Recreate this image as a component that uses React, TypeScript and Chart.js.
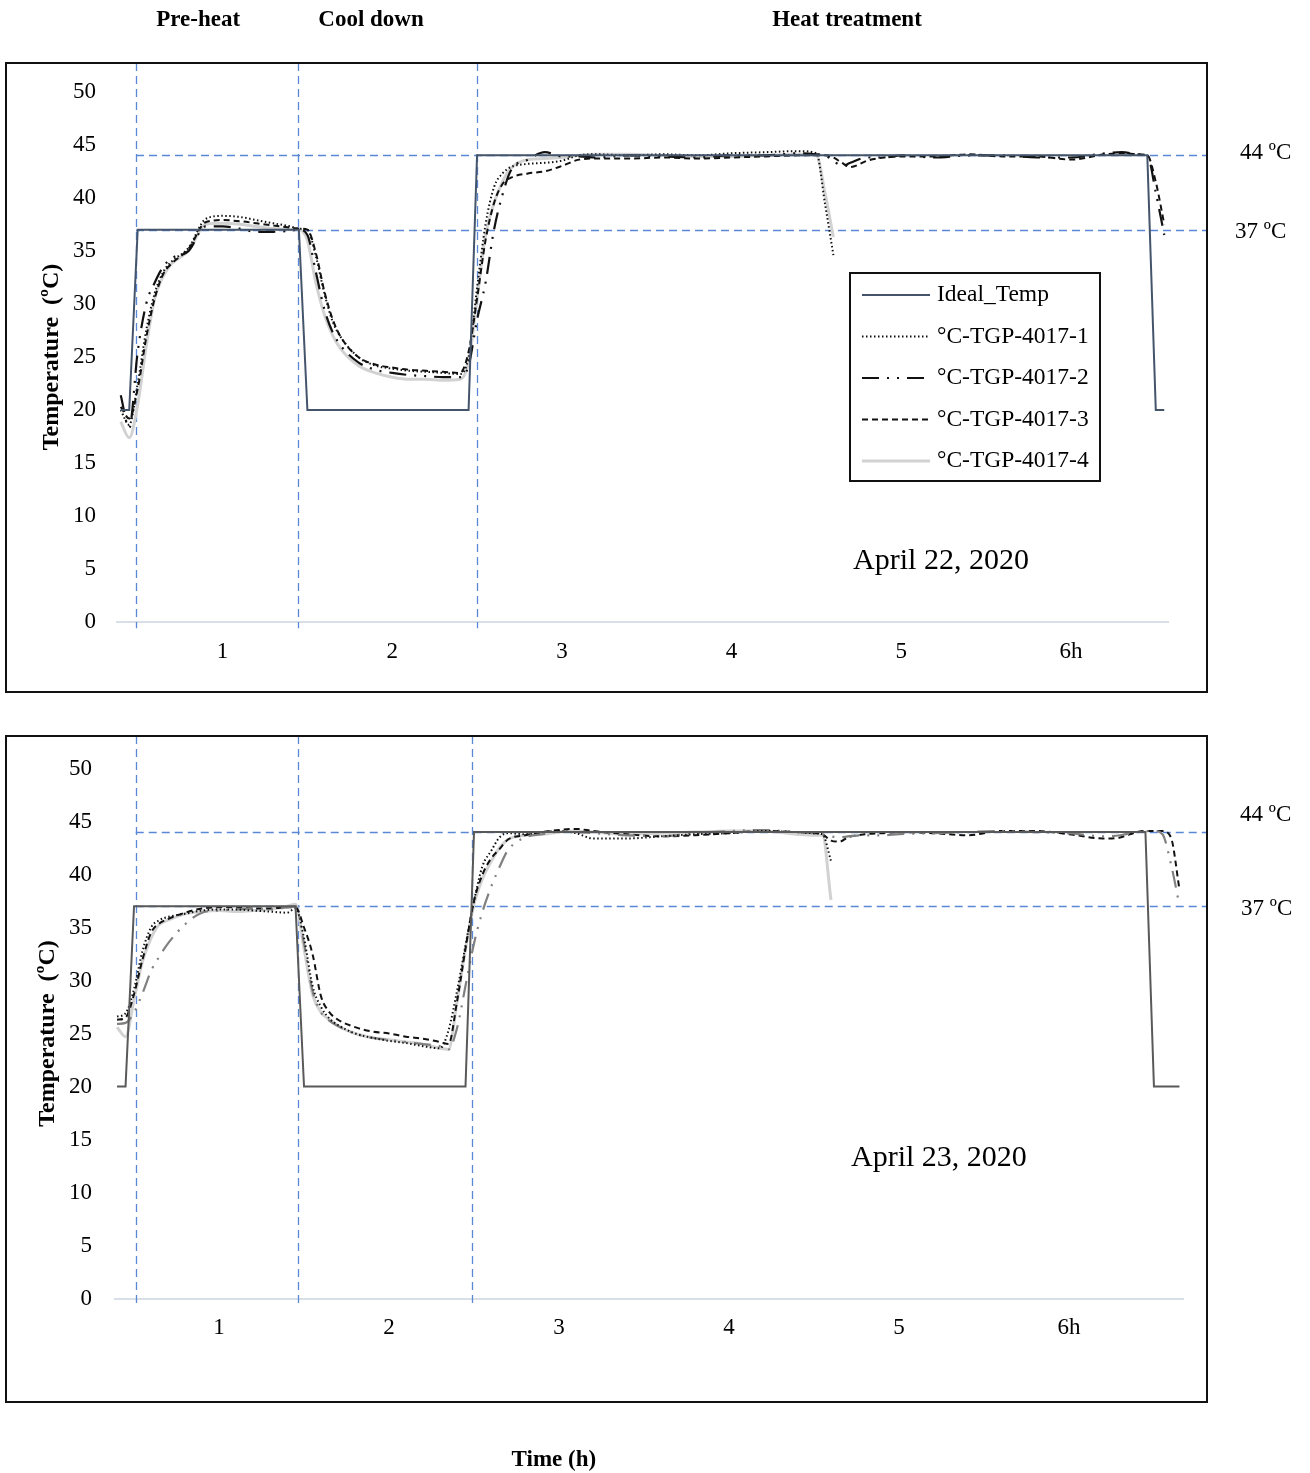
import React, { useEffect, useRef } from 'react';
import { Chart, registerables } from 'chart.js';

Chart.register(...registerables);

const FONT = "'Liberation Serif', 'Times New Roman', Times, serif";

// ---------- labels ----------
const SERIES_NAMES = ['Ideal_Temp', '°C-TGP-4017-1', '°C-TGP-4017-2', '°C-TGP-4017-3', '°C-TGP-4017-4'];
const PHASE_NAMES = ['Pre-heat', 'Cool down', 'Heat treatment'];
const PHASE_NAME_HOURS = [0.856, 1.875, 4.68];
const X_TICK_VALUES = [1, 2, 3, 4, 5, 6];
const X_TICK_LABELS = ['1', '2', '3', '4', '5', '6h'];
const Y_TITLE = 'Temperature  (ºC)';
const X_TITLE = 'Time (h)';
const REF_TEMPS = [44, 37];
const REF_LABELS = ['44 ºC', '37 ºC'];

// ---------- April 22, 2020 ----------
const TIME_APR22 = [0.40, 0.45, 0.50, 0.55, 0.60, 0.65, 0.70, 0.80, 0.90, 1.00, 1.10, 1.20, 1.30, 1.40, 1.45, 1.50, 1.55, 1.60, 1.65, 1.70, 1.80, 1.90, 2.00, 2.10, 2.20, 2.30, 2.40, 2.45, 2.50, 2.55, 2.60, 2.65, 2.70, 2.80, 2.90, 3.00, 3.10, 3.20, 3.40, 3.60, 3.80, 4.00, 4.20, 4.40, 4.50, 4.55, 4.60, 4.65, 4.70, 4.80, 4.90, 5.00, 5.20, 5.40, 5.60, 5.80, 6.00, 6.20, 6.30, 6.40, 6.45, 6.50, 6.55];
const IDEAL_APR22 = [20, 20, 37, 37, 37, 37, 37, 37, 37, 37, 37, 37, 37, 37, 37, 20, 20, 20, 20, 20, 20, 20, 20, 20, 20, 20, 20, 20, 44, 44, 44, 44, 44, 44, 44, 44, 44, 44, 44, 44, 44, 44, 44, 44, 44, 44, 44, 44, 44, 44, 44, 44, 44, 44, 44, 44, 44, 44, 44, 44, 44, 20, 20];
const S1_APR22 = [20.0, 18.6, 22.5, 27.5, 31.0, 33.0, 34.0, 35.3, 38.0, 38.3, 38.2, 37.9, 37.6, 37.3, 37.1, 37.0, 34.5, 31.0, 28.3, 26.8, 25.0, 24.2, 23.9, 23.7, 23.6, 23.5, 23.4, 25.0, 31.5, 37.5, 41.0, 42.3, 42.9, 43.2, 43.3, 43.5, 44.0, 44.1, 44.0, 44.1, 44.0, 44.2, 44.3, 44.4, 44.2, 39.5, 34.6, null, null, null, null, null, null, null, null, null, null, null, null, null, null, null, null];
const S2_APR22 = [21.4, 18.3, 25.5, 30.0, 32.0, 33.5, 34.3, 35.0, 37.3, 37.3, 37.1, 36.8, 36.8, 36.9, 37.0, 36.5, 33.0, 29.5, 27.3, 26.0, 24.5, 23.8, 23.5, 23.3, 23.2, 23.1, 23.1, 24.2, 28.5, 32.0, 37.0, 40.3, 42.6, 43.6, 44.3, 43.9, 43.9, 43.8, 44.0, 43.9, 43.8, 44.0, 44.0, 44.2, 44.1, 44.0, 43.5, 43.0, 43.3, 43.8, 43.8, 44.0, 43.8, 44.0, 44.0, 43.8, 43.8, 44.2, 44.3, 44.1, 44.0, 40.5, 36.5];
const S3_APR22 = [20.3, 19.2, 22.0, 26.8, 30.5, 32.8, 33.8, 35.2, 37.7, 37.9, 37.8, 37.6, 37.4, 37.2, 37.1, 37.0, 34.8, 31.2, 28.5, 26.8, 25.0, 24.3, 24.0, 23.8, 23.7, 23.6, 23.5, 25.5, 30.5, 36.0, 39.5, 41.3, 41.9, 42.3, 42.5, 43.0, 43.6, 43.7, 43.7, 43.8, 43.7, 43.8, 43.9, 44.0, 44.0, 44.0, 43.8, 43.3, 42.9, 43.5, 43.8, 43.9, 43.9, 44.1, 43.9, 43.9, 43.6, 44.1, 44.2, 44.1, 44.0, 41.5, 37.5];
const S4_APR22 = [18.9, 17.4, 20.5, 26.0, 30.5, 32.6, 33.8, 35.0, 37.5, 37.6, 37.5, 37.3, 37.1, 37.0, 37.0, 36.0, 32.0, 29.0, 27.0, 25.7, 24.2, 23.5, 23.1, 22.9, 22.9, 22.8, 22.9, 24.5, 30.5, 36.5, 39.5, 41.5, 42.8, 43.6, 43.7, 43.8, 44.0, 44.1, 44.1, 44.0, 43.9, 43.9, 44.0, 44.1, 44.0, 40.5, 36.3, null, null, null, null, null, null, null, null, null, null, null, null, null, null, null, null];

// ---------- April 23, 2020 ----------
const TIME_APR23 = [0.40, 0.45, 0.50, 0.55, 0.60, 0.65, 0.70, 0.80, 0.90, 1.00, 1.10, 1.20, 1.30, 1.40, 1.45, 1.50, 1.55, 1.60, 1.65, 1.70, 1.80, 1.90, 2.00, 2.10, 2.20, 2.30, 2.35, 2.40, 2.45, 2.50, 2.55, 2.60, 2.65, 2.70, 2.80, 2.90, 3.00, 3.10, 3.20, 3.40, 3.60, 3.80, 4.00, 4.20, 4.40, 4.50, 4.55, 4.60, 4.65, 4.70, 4.80, 4.90, 5.00, 5.20, 5.40, 5.60, 5.80, 6.00, 6.20, 6.30, 6.40, 6.45, 6.50, 6.55, 6.60, 6.65];
const IDEAL_APR23 = [20, 20, 37, 37, 37, 37, 37, 37, 37, 37, 37, 37, 37, 37, 37, 20, 20, 20, 20, 20, 20, 20, 20, 20, 20, 20, 20, 20, 20, 44, 44, 44, 44, 44, 44, 44, 44, 44, 44, 44, 44, 44, 44, 44, 44, 44, 44, 44, 44, 44, 44, 44, 44, 44, 44, 44, 44, 44, 44, 44, 44, 44, 20, 20, 20, 20];
const S1_APR23 = [26.6, 26.9, 29.2, 32.8, 35.0, 35.7, 36.0, 36.3, 36.6, 36.7, 36.7, 36.6, 36.5, 36.4, 36.8, 34.0, 29.5, 27.5, 26.4, 25.8, 25.0, 24.6, 24.3, 24.1, 23.8, 23.6, 25.3, 29.0, 33.3, 37.5, 40.8, 42.2, 43.5, 43.9, 43.8, 44.0, 44.1, 43.9, 43.4, 43.4, 43.6, 43.8, 43.9, 44.1, 44.0, 43.9, 43.8, 41.3, null, null, null, null, null, null, null, null, null, null, null, null, null, null, null, null, null, null];
const S2_APR23 = [25.9, 26.0, 27.0, 28.8, 30.9, 32.3, 33.5, 35.3, 36.4, 36.6, 36.7, 36.8, 36.7, 36.9, 37.0, 33.5, 29.0, 27.0, 26.2, 25.7, 25.0, 24.6, 24.4, 24.2, 24.0, 23.8, 23.5, 25.5, 29.5, 33.5, 36.5, 38.8, 40.7, 42.3, 43.5, 43.8, 44.0, 44.0, 43.9, 43.7, 43.6, 43.9, 44.1, 44.2, 44.0, 43.9, 43.8, 43.6, 43.5, 43.6, 43.7, 43.7, 43.8, 43.9, 44.0, 44.1, 44.0, 43.9, 43.6, 43.7, 44.0, 44.1, 44.1, 43.8, 41.0, 37.1];
const S3_APR23 = [26.3, 26.5, 28.7, 32.0, 34.5, 35.4, 35.8, 36.4, 36.8, 36.9, 36.9, 36.8, 36.8, 36.9, 36.9, 35.0, 32.5, 28.5, 27.0, 26.3, 25.6, 25.2, 25.0, 24.7, 24.5, 24.2, 24.0, 28.0, 33.0, 37.5, 40.0, 41.5, 42.4, 43.3, 43.7, 44.0, 44.2, 44.3, 44.1, 43.8, 43.6, 43.7, 43.9, 44.1, 44.0, 43.9, 43.8, 43.2, 43.1, 43.5, 43.8, 43.9, 44.0, 43.9, 43.7, 44.1, 44.1, 43.8, 43.4, 43.5, 44.0, 44.1, 44.1, 44.1, 43.5, 38.6];
const S4_APR23 = [25.6, 24.7, 28.2, 31.8, 34.0, 35.3, 35.7, 36.3, 36.5, 36.6, 36.5, 36.6, 36.7, 37.0, 37.2, 33.0, 28.7, 27.0, 26.3, 25.7, 25.0, 24.6, 24.4, 24.2, 24.0, 23.6, 23.5, 28.0, 33.0, 37.2, 39.6, 41.2, 42.5, 43.3, 43.7, 43.8, 44.0, 44.1, 44.0, 43.8, 43.9, 44.0, 44.1, 44.1, 43.8, 43.7, 43.7, 37.6, null, null, null, null, null, null, null, null, null, null, null, null, null, null, null, null, null, null];

// ---------- styles ----------
const GUIDE_COLOR = '#5a87d6';
const AXIS_COLOR = '#d9dfe7';
const SERIES_WIDTHS = [2, 2, 2.2, 2, 3];
const SERIES_DASHES = [[], [1.5, 2.5], [17, 8, 2, 8, 2, 8], [6, 4], []];
const TICK_SIZE = 23;
const TITLE_SIZE = 24;

type Panel = {
  time: number[];
  series: (number | null)[][];
  colors: string[];
  canvasTop: number;
  canvasHeight: number;
  xMin: number;
  xMax: number;
  pad: { left: number; right: number; top: number; bottom: number };
  yAxisWidth: number;
  yTickPad: number;
  yTitlePad: number;
  phaseLines: number[];
  frame: { left: number; top: number; right: number; bottom: number };
  refLabelX: number[];
  refLabelDy: number[];
  dateText: string;
  datePos: { x: number; y: number };
  headers: boolean;
  xTitleY: number | null;
  legend: null | { x: number; y: number; w: number; h: number; row0: number; rowH: number; s0: number; s1: number; tx: number };
};

const PANEL_APR22: Panel = {
  time: TIME_APR22,
  series: [IDEAL_APR22, S1_APR22, S2_APR22, S3_APR22, S4_APR22],
  colors: ['#44546a', '#111111', '#111111', '#111111', '#d2d2d2'],
  canvasTop: 0,
  canvasHeight: 700,
  xMin: 0.378,
  xMax: 6.572,
  pad: { left: 0, right: 142, top: 91.7, bottom: 37.7 },
  yAxisWidth: 117,
  yTickPad: 21,
  yTitlePad: 37.6,
  phaseLines: [0.49, 1.445, 2.5],
  frame: { left: 6, top: 63, right: 1207, bottom: 692 },
  refLabelX: [1240, 1235],
  refLabelDy: [-2, 2],
  dateText: 'April 22, 2020',
  datePos: { x: 5.234, y: 5.8 },
  headers: true,
  xTitleY: null,
  legend: { x: 850, y: 273, w: 250, h: 208, row0: 295, rowH: 41.5, s0: 862, s1: 930, tx: 937 },
};

const PANEL_APR23: Panel = {
  time: TIME_APR23,
  series: [IDEAL_APR23, S1_APR23, S2_APR23, S3_APR23, S4_APR23],
  colors: ['#595959', '#111111', '#808080', '#111111', '#d2d2d2'],
  canvasTop: 700,
  canvasHeight: 773,
  xMin: 0.388,
  xMax: 6.671,
  pad: { left: 0, right: 127, top: 68.5, bottom: 134.5 },
  yAxisWidth: 115,
  yTickPad: 23,
  yTitlePad: 33.6,
  phaseLines: [0.51, 1.465, 2.49],
  frame: { left: 6, top: 36, right: 1207, bottom: 702 },
  refLabelX: [1240, 1241],
  refLabelDy: [-17, 3],
  dateText: 'April 23, 2020',
  datePos: { x: 5.235, y: 13.2 },
  headers: false,
  xTitleY: 760,
  legend: null,
};

function makeDecor(p: Panel) {
  return {
    id: 'decor',
    beforeDatasetsDraw(chart: any) {
      const { ctx } = chart;
      const xs = chart.scales.x;
      const ys = chart.scales.y;
      ctx.save();
      ctx.strokeStyle = GUIDE_COLOR;
      ctx.lineWidth = 1.3;
      ctx.setLineDash([8, 5]);
      p.phaseLines.forEach((h) => {
        const px = Math.round(xs.getPixelForValue(h)) + 0.5;
        ctx.beginPath();
        ctx.moveTo(px, p.frame.top);
        ctx.lineTo(px, ys.bottom + 6);
        ctx.stroke();
      });
      const x0 = xs.getPixelForValue(p.phaseLines[0]);
      REF_TEMPS.forEach((t) => {
        const py = Math.round(ys.getPixelForValue(t)) + 0.5;
        ctx.beginPath();
        ctx.moveTo(x0, py);
        ctx.lineTo(p.frame.right, py);
        ctx.stroke();
      });
      ctx.restore();
    },
    afterDraw(chart: any) {
      const { ctx } = chart;
      const xs = chart.scales.x;
      const ys = chart.scales.y;
      ctx.save();
      ctx.setLineDash([]);
      ctx.strokeStyle = '#111';
      ctx.lineWidth = 2;
      ctx.strokeRect(p.frame.left, p.frame.top, p.frame.right - p.frame.left, p.frame.bottom - p.frame.top);
      ctx.fillStyle = '#000';
      ctx.font = `23px ${FONT}`;
      ctx.textAlign = 'left';
      ctx.textBaseline = 'middle';
      REF_TEMPS.forEach((t, i) => {
        ctx.fillText(REF_LABELS[i], p.refLabelX[i], ys.getPixelForValue(t) + p.refLabelDy[i]);
      });
      ctx.font = `30px ${FONT}`;
      ctx.textAlign = 'center';
      ctx.fillText(p.dateText, xs.getPixelForValue(p.datePos.x), ys.getPixelForValue(p.datePos.y));
      if (p.headers) {
        ctx.font = `bold 23px ${FONT}`;
        PHASE_NAMES.forEach((n, i) => {
          ctx.fillText(n, xs.getPixelForValue(PHASE_NAME_HOURS[i]), 20);
        });
      }
      if (p.xTitleY !== null) {
        ctx.font = `bold 23px ${FONT}`;
        ctx.fillText(X_TITLE, xs.getPixelForValue(2.97), p.xTitleY);
      }
      if (p.legend) {
        const L = p.legend;
        ctx.fillStyle = '#fff';
        ctx.fillRect(L.x, L.y, L.w, L.h);
        ctx.strokeStyle = '#111';
        ctx.lineWidth = 2;
        ctx.strokeRect(L.x, L.y, L.w, L.h);
        ctx.font = `23.5px ${FONT}`;
        ctx.textAlign = 'left';
        chart.data.datasets.forEach((ds: any, i: number) => {
          const cy = L.row0 + i * L.rowH;
          ctx.strokeStyle = ds.borderColor;
          ctx.lineWidth = ds.borderWidth;
          ctx.setLineDash(ds.borderDash || []);
          ctx.beginPath();
          ctx.moveTo(L.s0, cy);
          ctx.lineTo(L.s1, cy);
          ctx.stroke();
          ctx.setLineDash([]);
          ctx.fillStyle = '#000';
          ctx.fillText(ds.label, L.tx, cy);
        });
      }
      ctx.restore();
    },
  };
}

function buildConfig(p: Panel): any {
  const datasets = p.series.map((vals, i) => ({
    label: SERIES_NAMES[i],
    data: p.time.map((t, j) => ({ x: t, y: vals[j] })),
    borderColor: p.colors[i],
    backgroundColor: p.colors[i],
    borderWidth: SERIES_WIDTHS[i],
    borderDash: SERIES_DASHES[i],
    pointRadius: 0,
    pointHoverRadius: 0,
    fill: false,
    spanGaps: false,
    tension: 0,
    cubicInterpolationMode: i === 0 ? 'default' : 'monotone',
  }));
  return {
    type: 'line',
    data: { datasets },
    options: {
      responsive: false,
      animation: false,
      events: [],
      layout: { padding: p.pad },
      plugins: { legend: { display: false }, tooltip: { enabled: false } },
      scales: {
        x: {
          type: 'linear',
          min: p.xMin,
          max: p.xMax,
          grid: { display: false, drawTicks: false },
          border: { display: true, color: AXIS_COLOR, width: 2 },
          ticks: {
            padding: 15.6,
            color: '#000',
            font: { family: FONT, size: TICK_SIZE },
            autoSkip: false,
            maxRotation: 0,
            callback: (v: number) => {
              const k = X_TICK_VALUES.indexOf(v);
              return k >= 0 ? X_TICK_LABELS[k] : '';
            },
          },
          afterBuildTicks: (s: any) => {
            s.ticks = X_TICK_VALUES.map((v) => ({ value: v }));
          },
          afterFit: (s: any) => {
            s.height = 40;
          },
        },
        y: {
          type: 'linear',
          min: 0,
          max: 50,
          grid: { display: false, drawTicks: false },
          border: { display: false },
          ticks: { stepSize: 5, padding: p.yTickPad, color: '#000', font: { family: FONT, size: TICK_SIZE } },
          title: {
            display: true,
            text: Y_TITLE,
            color: '#000',
            font: { family: FONT, size: TITLE_SIZE, weight: 'bold' },
            padding: { top: p.yTitlePad, bottom: 0 },
          },
          afterFit: (s: any) => {
            s.width = p.yAxisWidth;
          },
        },
      },
    },
    plugins: [makeDecor(p)],
  };
}

function PanelChart({ panel }: { panel: Panel }) {
  const ref = useRef<HTMLCanvasElement>(null);
  useEffect(() => {
    const chart = new Chart(ref.current as HTMLCanvasElement, buildConfig(panel));
    return () => chart.destroy();
  }, [panel]);
  return (
    <div style={{ position: 'absolute', left: 0, top: panel.canvasTop, width: 1310, height: panel.canvasHeight }}>
      <canvas
        ref={ref}
        width={1310}
        height={panel.canvasHeight}
        style={{ display: 'block', width: 1310, height: panel.canvasHeight }}
      />
    </div>
  );
}

export default function App() {
  return (
    <div style={{ position: 'absolute', left: 0, top: 0, width: 1310, height: 1473, background: '#fff' }}>
      <PanelChart panel={PANEL_APR22} />
      <PanelChart panel={PANEL_APR23} />
    </div>
  );
}
